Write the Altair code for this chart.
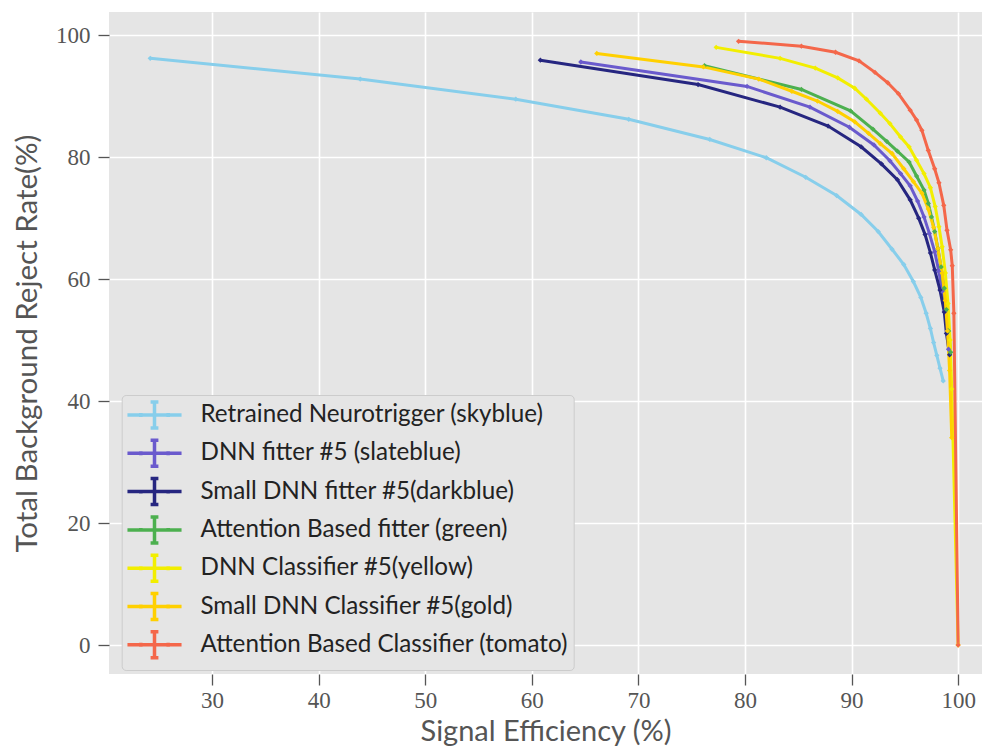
import altair as alt
import pandas as pd

series_names = [
    "Retrained Neurotrigger (skyblue)",
    "DNN fitter #5 (slateblue)",
    "Small DNN fitter #5(darkblue)",
    "Attention Based fitter (green)",
    "DNN Classifier #5(yellow)",
    "Small DNN Classifier #5(gold)",
    "Attention Based Classifier (tomato)",
]
colors = ["#87CEEB", "#6A5ACD", "#262680", "#4CB04F", "#F2EE00", "#FFD000", "#F4674A"]

skyblue_x = [24.2, 43.9, 58.5, 69.1, 76.7, 82.0, 85.7, 88.6, 90.9, 92.5, 93.8, 94.9, 95.8, 96.5, 97.0, 97.4, 97.7, 98.0, 98.3, 98.6]
skyblue_y = [96.2, 92.8, 89.5, 86.2, 82.9, 79.9, 76.7, 73.7, 70.6, 67.8, 64.9, 62.4, 59.6, 57.0, 54.4, 51.9, 49.6, 47.5, 45.4, 43.3]

slateblue_x = [64.6, 80.2, 86.1, 89.8, 92.1, 93.6, 94.6, 95.5, 96.2, 96.8, 97.3, 97.8, 98.2, 98.5, 98.8, 99.0, 99.1]
slateblue_y = [95.6, 91.6, 88.2, 84.9, 82.0, 79.4, 77.3, 75.3, 72.8, 70.2, 67.5, 64.5, 61.2, 58.0, 54.8, 51.5, 48.5]

darkblue_x = [60.8, 75.6, 83.3, 87.8, 90.9, 92.8, 94.3, 95.5, 96.3, 96.9, 97.4, 97.8, 98.3, 98.7, 98.9, 99.2]
darkblue_y = [95.9, 91.9, 88.2, 85.1, 81.7, 78.9, 76.3, 73.0, 70.0, 67.3, 64.3, 61.5, 58.2, 54.6, 51.1, 47.6]

green_x = [76.2, 85.3, 89.9, 92.0, 93.3, 94.3, 95.4, 96.1, 96.8, 97.2, 97.5, 97.8, 98.1, 98.4, 98.7, 98.9, 99.1, 99.3]
green_y = [95.0, 91.1, 87.6, 84.6, 82.6, 81.0, 79.2, 76.9, 74.6, 72.4, 70.2, 67.8, 65.0, 62.0, 58.5, 55.0, 51.5, 48.0]

yellow_x = [77.3, 83.3, 86.6, 88.7, 90.3, 91.4, 92.7, 93.6, 94.6, 95.4, 96.1, 96.8, 97.4, 97.85, 98.2, 98.5, 98.8, 99.05, 99.25, 99.4, 100.0]
yellow_y = [98.0, 96.2, 94.6, 93.0, 91.3, 89.5, 87.2, 85.5, 83.3, 81.7, 79.5, 77.3, 75.0, 71.9, 68.6, 65.3, 61.0, 56.0, 50.0, 42.0, 0.0]

gold_x = [66.1, 76.1, 81.3, 84.4, 86.8, 88.7, 90.3, 91.6, 92.7, 93.8, 94.9, 95.8, 96.6, 97.2, 97.7, 98.1, 98.5, 98.8, 99.0, 99.2, 99.4]
gold_y = [97.0, 94.8, 92.8, 90.8, 89.2, 87.5, 85.8, 83.9, 82.2, 80.6, 78.1, 76.0, 74.1, 71.5, 68.5, 65.0, 61.0, 56.5, 51.5, 45.0, 34.0]

tomato_x = [79.4, 85.3, 88.5, 90.7, 92.2, 93.4, 94.4, 95.5, 96.1, 96.6, 97.2, 97.8, 98.2, 98.65, 98.96, 99.3, 99.45, 99.6, 100.0]
tomato_y = [99.0, 98.2, 97.2, 95.8, 93.9, 92.2, 90.4, 87.7, 86.1, 84.4, 81.1, 78.1, 75.8, 72.1, 68.0, 64.8, 62.2, 54.4, 0.0]

x_ticks = [30, 40, 50, 60, 70, 80, 90, 100]
y_ticks = [0, 20, 40, 60, 80, 100]

all_x = [skyblue_x, slateblue_x, darkblue_x, green_x, yellow_x, gold_x, tomato_x]
all_y = [skyblue_y, slateblue_y, darkblue_y, green_y, yellow_y, gold_y, tomato_y]

rows = []
for s, (name, xs_, ys_) in enumerate(zip(series_names, all_x, all_y)):
    for i, (xv, yv) in enumerate(zip(xs_, ys_)):
        rows.append({"series": name, "sidx": s, "order": i, "x": xv, "y": yv})
df = pd.DataFrame(rows)

legend_path = ("M-2.08,0H2.08M0,-1V1M-0.3,-1H0.3M-0.3,1H0.3"
               "M-1.05,-0.15V0.15M1.05,-0.15V0.15")

xs = alt.X("x:Q", scale=alt.Scale(domain=[20.33, 102.24], nice=False, zero=False),
           axis=alt.Axis(values=x_ticks, title="Signal Efficiency (%)", format="d"))
ys = alt.Y("y:Q", scale=alt.Scale(domain=[-4.75, 103.8], nice=False, zero=False),
           axis=alt.Axis(values=y_ticks, title="Total Background Reject Rate(%)", format="d"))
color_scale = alt.Scale(domain=series_names, range=colors)

lines = alt.Chart(df).mark_line(strokeWidth=3, clip=True).encode(
    x=xs, y=ys,
    color=alt.Color("series:N", scale=color_scale, legend=alt.Legend(
        title=None, orient="none", legendX=12.7, legendY=383,
        symbolType=legend_path, symbolSize=676, symbolStrokeWidth=3.5,
        symbolOffset=12.8, labelOffset=31, padding=5, rowPadding=-1.7,
        labelFont="Lato", labelFontSize=24.2, labelColor="#222222", labelLimit=500,
        fillColor="#E5E5E5", strokeColor="#CCCCCC", cornerRadius=4)),
    order="order:Q",
)

points = alt.Chart(df).mark_point(filled=True, shape="diamond", size=28, opacity=1, clip=True).encode(
    x=xs, y=ys,
    color=alt.Color("series:N", scale=color_scale, legend=None),
)

chart = alt.layer(lines, points).properties(
    width=873, height=662,
    autosize=alt.AutoSizeParams(type="none"),
    padding={"left": 101, "top": 4, "right": 0, "bottom": 74},
    background="white",
).configure_view(
    fill="#E5E5E5", strokeWidth=0
).configure_axis(
    domain=False, tickColor="#555555", tickSize=11, tickWidth=1.3,
    labelFont="Liberation Serif", labelFontSize=23, labelColor="#555555",
    titleFontWeight="normal", titleFont="Lato", titleColor="#555555",
    gridColor="white", gridWidth=1.6,
).configure_axisX(
    labelPadding=4, titlePadding=5, titleFontSize=29,
).configure_axisY(
    labelPadding=8, titlePadding=13, titleFontSize=29.5,
)

chart.save("out.html", embed_options={"renderer": "svg", "actions": False})
